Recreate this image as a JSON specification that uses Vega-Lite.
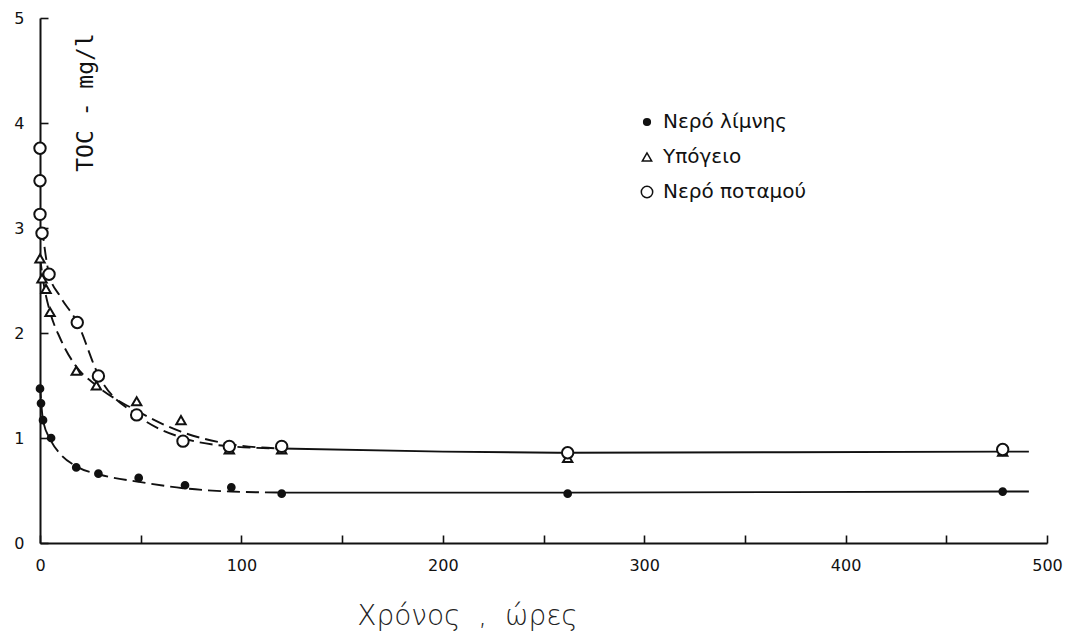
{
  "$schema": "https://vega.github.io/schema/vega-lite/v6.json",
  "width": 1007,
  "height": 525,
  "autosize": "none",
  "padding": {"left": 40, "top": 18, "right": 20, "bottom": 90},
  "background": "white",
  "config": {"view": {"stroke": null}},
  "resolve": {"axis": {"x": "independent", "y": "independent"}},
  "datasets": {
    "points": [
      {"series": "Νερό λίμνης", "hours": 0, "toc": 1.47},
      {"series": "Νερό λίμνης", "hours": 0.5, "toc": 1.33},
      {"series": "Νερό λίμνης", "hours": 1.5, "toc": 1.17},
      {"series": "Νερό λίμνης", "hours": 5.5, "toc": 1.0},
      {"series": "Νερό λίμνης", "hours": 18, "toc": 0.72},
      {"series": "Νερό λίμνης", "hours": 29, "toc": 0.66},
      {"series": "Νερό λίμνης", "hours": 49, "toc": 0.62},
      {"series": "Νερό λίμνης", "hours": 72, "toc": 0.55},
      {"series": "Νερό λίμνης", "hours": 95, "toc": 0.53},
      {"series": "Νερό λίμνης", "hours": 120, "toc": 0.47},
      {"series": "Νερό λίμνης", "hours": 262, "toc": 0.47},
      {"series": "Νερό λίμνης", "hours": 478, "toc": 0.49},
      {"series": "Υπόγειο", "hours": 0, "toc": 2.71},
      {"series": "Υπόγειο", "hours": 1, "toc": 2.52},
      {"series": "Υπόγειο", "hours": 3, "toc": 2.42},
      {"series": "Υπόγειο", "hours": 5, "toc": 2.2},
      {"series": "Υπόγειο", "hours": 18, "toc": 1.64},
      {"series": "Υπόγειο", "hours": 28, "toc": 1.5},
      {"series": "Υπόγειο", "hours": 48, "toc": 1.35},
      {"series": "Υπόγειο", "hours": 70, "toc": 1.17},
      {"series": "Υπόγειο", "hours": 94, "toc": 0.89},
      {"series": "Υπόγειο", "hours": 120, "toc": 0.89},
      {"series": "Υπόγειο", "hours": 262, "toc": 0.81},
      {"series": "Υπόγειο", "hours": 478, "toc": 0.87},
      {"series": "Νερό ποταμού", "hours": 0, "toc": 3.76},
      {"series": "Νερό ποταμού", "hours": 0, "toc": 3.45},
      {"series": "Νερό ποταμού", "hours": 0, "toc": 3.13},
      {"series": "Νερό ποταμού", "hours": 1, "toc": 2.95},
      {"series": "Νερό ποταμού", "hours": 4.5, "toc": 2.56},
      {"series": "Νερό ποταμού", "hours": 18.5, "toc": 2.1},
      {"series": "Νερό ποταμού", "hours": 29, "toc": 1.59},
      {"series": "Νερό ποταμού", "hours": 48, "toc": 1.22},
      {"series": "Νερό ποταμού", "hours": 71, "toc": 0.97},
      {"series": "Νερό ποταμού", "hours": 94, "toc": 0.92},
      {"series": "Νερό ποταμού", "hours": 120, "toc": 0.92},
      {"series": "Νερό ποταμού", "hours": 262, "toc": 0.86},
      {"series": "Νερό ποταμού", "hours": 478, "toc": 0.89}
    ],
    "curves": [
      {"curve": "lake", "phase": "decay", "hours": 0, "toc": 1.5},
      {"curve": "lake", "phase": "decay", "hours": 1.5, "toc": 1.17},
      {"curve": "lake", "phase": "decay", "hours": 5, "toc": 0.99},
      {"curve": "lake", "phase": "decay", "hours": 10, "toc": 0.85},
      {"curve": "lake", "phase": "decay", "hours": 18, "toc": 0.73},
      {"curve": "lake", "phase": "decay", "hours": 30, "toc": 0.65},
      {"curve": "lake", "phase": "decay", "hours": 50, "toc": 0.58},
      {"curve": "lake", "phase": "decay", "hours": 72, "toc": 0.52},
      {"curve": "lake", "phase": "decay", "hours": 95, "toc": 0.49},
      {"curve": "lake", "phase": "decay", "hours": 120, "toc": 0.48},
      {"curve": "lake", "phase": "plateau", "hours": 120, "toc": 0.48},
      {"curve": "lake", "phase": "plateau", "hours": 262, "toc": 0.48},
      {"curve": "lake", "phase": "plateau", "hours": 478, "toc": 0.49},
      {"curve": "lake", "phase": "plateau", "hours": 491, "toc": 0.49},
      {"curve": "ground", "phase": "decay", "hours": 0, "toc": 2.72},
      {"curve": "ground", "phase": "decay", "hours": 2, "toc": 2.45},
      {"curve": "ground", "phase": "decay", "hours": 5, "toc": 2.2},
      {"curve": "ground", "phase": "decay", "hours": 10, "toc": 1.95},
      {"curve": "ground", "phase": "decay", "hours": 18, "toc": 1.68},
      {"curve": "ground", "phase": "decay", "hours": 28, "toc": 1.5},
      {"curve": "ground", "phase": "decay", "hours": 48, "toc": 1.26},
      {"curve": "ground", "phase": "decay", "hours": 70, "toc": 1.06},
      {"curve": "ground", "phase": "decay", "hours": 95, "toc": 0.94},
      {"curve": "ground", "phase": "decay", "hours": 120, "toc": 0.9},
      {"curve": "river", "phase": "decay", "hours": 1, "toc": 3.0},
      {"curve": "river", "phase": "decay", "hours": 4.5, "toc": 2.56},
      {"curve": "river", "phase": "decay", "hours": 10, "toc": 2.35},
      {"curve": "river", "phase": "decay", "hours": 18.5, "toc": 2.1},
      {"curve": "river", "phase": "decay", "hours": 29, "toc": 1.6},
      {"curve": "river", "phase": "decay", "hours": 48, "toc": 1.22},
      {"curve": "river", "phase": "decay", "hours": 71, "toc": 1.0},
      {"curve": "river", "phase": "decay", "hours": 95, "toc": 0.92},
      {"curve": "river", "phase": "decay", "hours": 120, "toc": 0.9},
      {"curve": "shared", "phase": "plateau", "hours": 120, "toc": 0.9},
      {"curve": "shared", "phase": "plateau", "hours": 200, "toc": 0.87},
      {"curve": "shared", "phase": "plateau", "hours": 262, "toc": 0.86},
      {"curve": "shared", "phase": "plateau", "hours": 478, "toc": 0.87},
      {"curve": "shared", "phase": "plateau", "hours": 491, "toc": 0.87}
    ]
  },
  "layer": [
    {
      "data": {"name": "curves"},
      "transform": [{"filter": "datum.phase === 'decay'"}],
      "mark": {"type": "line", "interpolate": "monotone", "stroke": "#111", "strokeWidth": 1.9, "strokeDash": [13, 6]},
      "encoding": {
        "x": {
          "field": "hours",
          "type": "quantitative",
          "scale": {"domain": [0, 500], "nice": false, "zero": false},
          "axis": {
            "orient": "bottom",
            "title": "Χρόνος\u00a0\u00a0,\u00a0\u00a0ώρες",
            "values": [0, 100, 200, 300, 400, 500],
            "grid": false,
            "ticks": false,
            "domainColor": "#111",
            "domainWidth": 2,
            "labelFont": "DejaVu Sans",
            "labelFontSize": 16,
            "labelColor": "#111",
            "labelPadding": 14,
            "labelDx": -8,
            "labelFlush": false,
            "labelOverlap": false,
            "titleFont": "DejaVu Sans",
            "titleFontSize": 28,
            "titleFontWeight": 200,
            "titleColor": "#222",
            "titleX": 427,
            "titleY": 81,
            "titleAlign": "center",
            "titleBaseline": "alphabetic"
          }
        },
        "y": {
          "field": "toc",
          "type": "quantitative",
          "scale": {"domain": [0, 5], "nice": false},
          "axis": {
            "orient": "left",
            "title": "TOC - mg/l",
            "values": [0, 1, 2, 3, 4, 5],
            "grid": false,
            "ticks": false,
            "domainColor": "#111",
            "domainWidth": 2,
            "labelFont": "DejaVu Sans",
            "labelFontSize": 16,
            "labelColor": "#111",
            "labelPadding": 16,
            "labelFlush": false,
            "labelOverlap": false,
            "titleFont": "DejaVu Sans Mono",
            "titleFontSize": 23,
            "titleFontWeight": "normal",
            "titleColor": "#111",
            "titleAngle": 270,
            "titleX": 45,
            "titleY": 84,
            "titleAlign": "center",
            "titleBaseline": "middle"
          }
        },
        "detail": {"field": "curve", "type": "nominal"}
      }
    },
    {
      "data": {"name": "curves"},
      "transform": [{"filter": "datum.phase === 'plateau'"}],
      "mark": {"type": "line", "interpolate": "monotone", "stroke": "#111", "strokeWidth": 1.9},
      "encoding": {
        "x": {
          "field": "hours",
          "type": "quantitative",
          "axis": {
            "orient": "bottom",
            "title": null,
            "values": [0, 50, 100, 150, 200, 250, 300, 350, 400, 450, 500],
            "grid": false,
            "domain": false,
            "labels": false,
            "ticks": true,
            "tickSize": 8,
            "tickWidth": 1.6,
            "tickColor": "#111",
            "offset": -8
          }
        },
        "y": {
          "field": "toc",
          "type": "quantitative",
          "axis": {
            "orient": "left",
            "title": null,
            "values": [0, 1, 2, 3, 4, 5],
            "grid": false,
            "domain": false,
            "labels": false,
            "ticks": true,
            "tickSize": 8,
            "tickWidth": 1.6,
            "tickColor": "#111",
            "offset": -8
          }
        },
        "detail": {"field": "curve", "type": "nominal"}
      }
    },
    {
      "data": {"name": "points"},
      "mark": {"type": "point", "filled": false, "stroke": "#111", "strokeWidth": 2, "opacity": 1},
      "encoding": {
        "x": {"field": "hours", "type": "quantitative", "axis": null},
        "y": {"field": "toc", "type": "quantitative", "axis": null},
        "shape": {
          "field": "series",
          "type": "nominal",
          "scale": {"domain": ["Νερό λίμνης", "Υπόγειο", "Νερό ποταμού"], "range": ["circle", "triangle-up", "circle"]},
          "legend": {
            "title": null,
            "orient": "none",
            "legendX": 597,
            "legendY": 94,
            "labelFont": "DejaVu Sans",
            "labelFontSize": 20,
            "labelColor": "#111",
            "labelOffset": 6,
            "rowPadding": 15,
            "encode": {"symbols": {"update": {"stroke": {"value": "#111"}, "strokeWidth": {"value": 1.5}}}}
          }
        },
        "fill": {
          "field": "series",
          "type": "nominal",
          "scale": {"domain": ["Νερό λίμνης", "Υπόγειο", "Νερό ποταμού"], "range": ["#111", "white", "white"]},
          "legend": {
            "title": null,
            "orient": "none",
            "legendX": 597,
            "legendY": 94,
            "labelFont": "DejaVu Sans",
            "labelFontSize": 20,
            "labelColor": "#111",
            "labelOffset": 6,
            "rowPadding": 15,
            "encode": {"symbols": {"update": {"stroke": {"value": "#111"}, "strokeWidth": {"value": 1.5}}}}
          }
        },
        "size": {
          "field": "series",
          "type": "nominal",
          "scale": {"domain": ["Νερό λίμνης", "Υπόγειο", "Νερό ποταμού"], "range": [45, 130, 115]},
          "legend": {
            "title": null,
            "orient": "none",
            "legendX": 597,
            "legendY": 94,
            "labelFont": "DejaVu Sans",
            "labelFontSize": 20,
            "labelColor": "#111",
            "labelOffset": 6,
            "rowPadding": 15,
            "encode": {"symbols": {"update": {"stroke": {"value": "#111"}, "strokeWidth": {"value": 1.5}}}}
          }
        }
      }
    }
  ]
}
